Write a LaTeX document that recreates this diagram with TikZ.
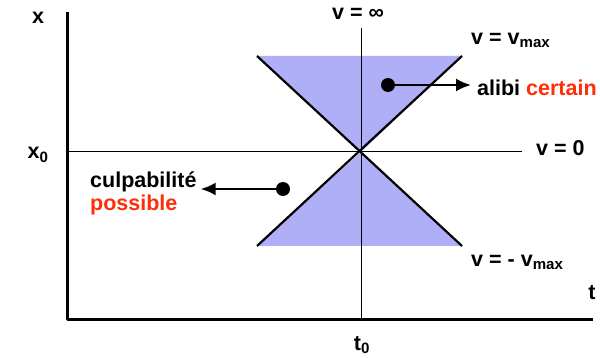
\documentclass[tikz,border=0pt]{standalone}
\usepackage{fontspec}
\setmainfont{Liberation Sans}
\usetikzlibrary{arrows.meta,calc,positioning}
\definecolor{coneLilac}{HTML}{B0AEF6}
\definecolor{verdictRed}{HTML}{FF2D0A}
\definecolor{axisInk}{HTML}{000000}

\begin{document}
\begin{tikzpicture}[x=1pt,y=-1pt,>={Latex[length=15pt,width=13pt]},line cap=butt,line join=round]
\path[fill=white] (0,0) rectangle (600,358);
\tikzset{lbl/.style={text=axisInk,font=\fontsize{21.5}{25}\selectfont\bfseries,inner sep=0pt},axis/.style={draw=axisInk,line width=3pt},guide/.style={draw=axisInk,line width=1pt},edge/.style={draw=axisInk,line width=2.2pt},marker/.style={circle,fill=axisInk,minimum size=14pt,inner sep=0pt}}
\coordinate (ev) at (361,152);
\path[fill=coneLilac] (257,56) -- (462,56) -- (ev) -- (462,246) -- (257,246) -- (ev) -- cycle;
\draw[guide] (67,152) -- (522,152);
\draw[guide] (361,28) -- (361,318);
\draw[edge] (257,56) -- (462,246);
\draw[edge] (462,56) -- (257,246);
\draw[axis] (67,12) -- (67,319.5) -- (593,319.5);
\node[lbl] (xlab) at (38,18) {x}; \node[lbl] (tlab) at (592,293) {t};
\node[lbl] (xzero) at (38,155) {x\textsubscript{0}}; \node[lbl] (tzero) at (362,345) {t\textsubscript{0}};
\node[lbl] (vinf) at (358,14) {v = ∞}; \node[lbl,anchor=west] (vzero) at (536,148) {v = 0};
\node[lbl,anchor=west] (vmax) at (471,40) {v = v\textsubscript{max}}; \node[lbl,anchor=west] (vmin) at (471,262) {v = - v\textsubscript{max}};
\node[lbl,anchor=west] (alibi) at (477,88) {alibi \textcolor{verdictRed}{certain}};
\node[lbl,anchor=west] (culp) at (90,182) {culpabilité}; \node[lbl,anchor=west,text=verdictRed] (poss) at (90,205) {possible};
\node[marker] (dotR) at (388,85) {}; \node[marker] (dotL) at (283,189) {};
\draw[->,line width=2.2pt] (dotR.center) -- ($(dotR -| alibi.west)+(-6,0)$);
\draw[->,line width=2.2pt] (dotL.center) -- ($(dotL -| culp.east)+(4,0)$);
\end{tikzpicture}
\end{document}
